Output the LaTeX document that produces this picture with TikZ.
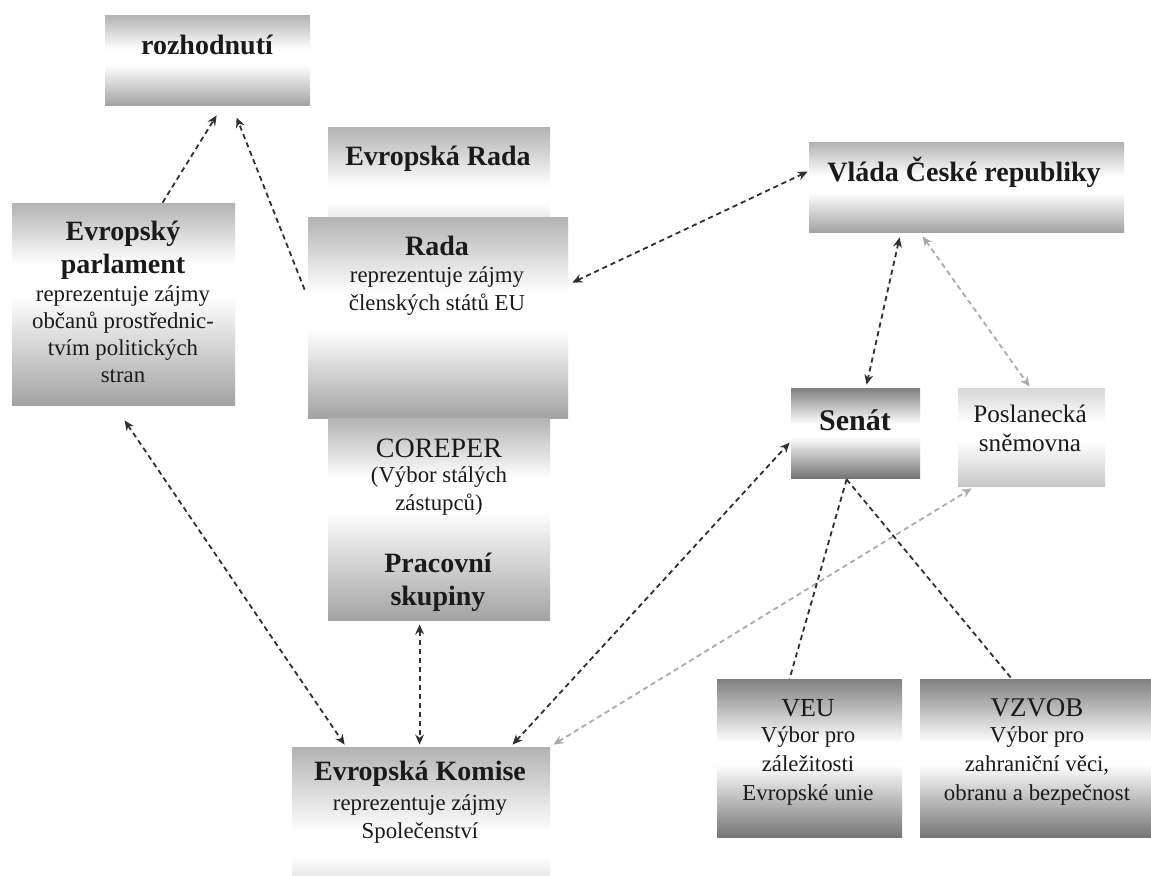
\documentclass[tikz,border=0pt]{standalone}
\usepackage{fontspec}
\setmainfont{Liberation Serif}
\usetikzlibrary{arrows.meta,calc}
\definecolor{dk}{HTML}{303030}
\definecolor{lt}{HTML}{ABABAB}
\definecolor{txt}{HTML}{1A1A1A}
\definecolor{gTop}{gray}{0.70}
\definecolor{gBot}{gray}{0.64}
\definecolor{dTop}{gray}{0.50}
\definecolor{dBot}{gray}{0.46}
\definecolor{lTop}{gray}{0.84}
\definecolor{lBot}{gray}{0.78}
\definecolor{eBot}{gray}{0.92}
\pgfdeclareverticalshading{shA}{100bp}{color(0bp)=(gBot); color(25bp)=(gBot); color(47bp)=(white); color(56bp)=(white); color(75bp)=(gTop); color(100bp)=(gTop)}
\pgfdeclareverticalshading{shR}{100bp}{color(0bp)=(gBot); color(25bp)=(gBot); color(52bp)=(white); color(60bp)=(white); color(75bp)=(gTop); color(100bp)=(gTop)}
\pgfdeclareverticalshading{shD}{100bp}{color(0bp)=(dBot); color(25bp)=(dBot); color(48bp)=(white); color(55bp)=(white); color(75bp)=(dTop); color(100bp)=(dTop)}
\pgfdeclareverticalshading{shL}{100bp}{color(0bp)=(lBot); color(25bp)=(lBot); color(48bp)=(white); color(58bp)=(white); color(75bp)=(lTop); color(100bp)=(lTop)}
\pgfdeclareverticalshading{shE}{100bp}{color(0bp)=(eBot); color(25bp)=(eBot); color(33bp)=(white); color(42bp)=(white); color(75bp)=(gTop); color(100bp)=(gTop)}
\begin{document}
\begin{tikzpicture}[x=0.5pt,y=-0.5pt,
  box/.style={draw=none, inner sep=0pt, shading=shA},
  hd/.style={font=\bfseries\fontsize{14}{16.5}\selectfont, text=txt, align=center, inner sep=0pt},
  hr/.style={font=\fontsize{14}{16.5}\selectfont, text=txt, align=center, inner sep=0pt},
  bd/.style={font=\fontsize{11.4}{13.6}\selectfont, text=txt, align=center, inner sep=0pt},
  con/.style={draw=dk, line width=0.9pt, dash pattern=on 2.6pt off 1.9pt, >={Stealth[length=5pt,width=4.4pt]}},
  conl/.style={con, draw=lt}]
\fill[white] (0,0) rectangle (1151,875);
\useasboundingbox (0,0) rectangle (1151,875);

% boxes
\node[box, minimum width=102.5pt, minimum height=45pt] (rozh) at (207.5,60) {};
\node[box, minimum width=111.5pt, minimum height=101pt, shading=shR] (ep) at (123.5,304) {};
\node[box, minimum width=111pt, minimum height=45pt, shading=shE] (erada) at (439,172) {};
\node[box, minimum width=130pt, minimum height=100.5pt] (rada) at (438,317.5) {};
\node[box, minimum width=111pt, minimum height=101pt, shading=shR] (coreper) at (439,519) {};
\node[box, minimum width=157.5pt, minimum height=45pt] (vlada) at (966.5,187) {};
\node[box, minimum width=64.5pt, minimum height=45pt, shading=shD] (senat) at (855.5,433) {};
\node[box, minimum width=73.5pt, minimum height=49pt, shading=shL] (posl) at (1031.5,437) {};
\node[box, minimum width=92.5pt, minimum height=79pt, shading=shD] (veu) at (809.5,758) {};
\node[box, minimum width=115.5pt, minimum height=79pt, shading=shD] (vzvob) at (1035.5,758) {};
\node[box, minimum width=129pt, minimum height=64pt, shading=shE] (komise) at (421,811) {};

% texts
\node[hd] (rozhT) at (207,45) {rozhodnutí};
\node[hd] (epH) at (123,250) {Evropský\\parlament};
\node[bd] (epB) at (123,334) {reprezentuje zájmy\\občanů prostřednic-\\tvím politických\\stran};
\node[hd] (eradaT) at (438,159) {Evropská Rada};
\node[hd] (radaH) at (437,246) {Rada};
\node[bd] (radaB) at (437,291) {reprezentuje zájmy\\členských států EU};
\node[hr] (corT) at (439,448) {COREPER};
\node[bd] (corB) at (439,491) {(Výbor stálých\\zástupců)};
\node[hd] (pracT) at (438,582) {Pracovní\\skupiny};
\node[hd] (vladaT) at (964,172) {Vláda České republiky};
\node[hd, font=\bfseries\fontsize{15}{17}\selectfont] (senatT) at (855,420) {Senát};
\node[bd, font=\fontsize{12.6}{14.6}\selectfont] (poslT) at (1030,428) {Poslanecká\\sněmovna};
\node[hr, font=\fontsize{13}{15}\selectfont] (veuH) at (808,708) {VEU};
\node[bd, font=\fontsize{11.4}{14.3}\selectfont] (veuB) at (808,766) {Výbor pro\\záležitosti\\Evropské unie};
\node[hr, font=\fontsize{13.5}{15}\selectfont] (vzvobH) at (1037,708) {VZVOB};
\node[bd, font=\fontsize{11.4}{14.3}\selectfont] (vzvobB) at (1037,766) {Výbor pro\\zahraniční věci,\\obranu a bezpečnost};
\node[hd] (komT) at (420,774) {Evropská Komise};
\node[bd] (komB) at (420,819) {reprezentuje zájmy\\Společenství};

% connectors
\draw[con,->] ([shift={(151,0)}]ep.north west) -- ([shift={(112,10)}]rozh.south west);
\draw[con,->] ([shift={(-3,73)}]rada.north west) -- ([shift={(132,12)}]rozh.south west);
\draw[con,<->] ([shift={(4,66)}]rada.north east) -- ([shift={(-1,30)}]vlada.north west);
\draw[con,<->] ([shift={(91,5)}]vlada.south west) -- ([shift={(76,-3)}]senat.north west);
\draw[conl,<->] ([shift={(114,4)}]vlada.south west) -- ([shift={(72,-1)}]posl.north west);
\draw[con,<->] ([shift={(113,15)}]ep.south west) -- ([shift={(53,-2)}]komise.north west);
\draw[con,<->] ([shift={(92,4)}]coreper.south west) -- ([shift={(128,-2)}]komise.north west);
\draw[con,<->] ([shift={(221,-2)}]komise.north west) -- ([shift={(-1,55)}]senat.north west);
\draw[conl,<->] ([shift={(3,-2)}]komise.north east) -- ([shift={(14,2)}]posl.south west);
\draw[con] ([shift={(56,1)}]senat.south west) -- ([shift={(73,0)}]veu.north west);
\draw[con] ([shift={(56,1)}]senat.south west) -- ([shift={(92,0)}]vzvob.north west);
\end{tikzpicture}
\end{document}
